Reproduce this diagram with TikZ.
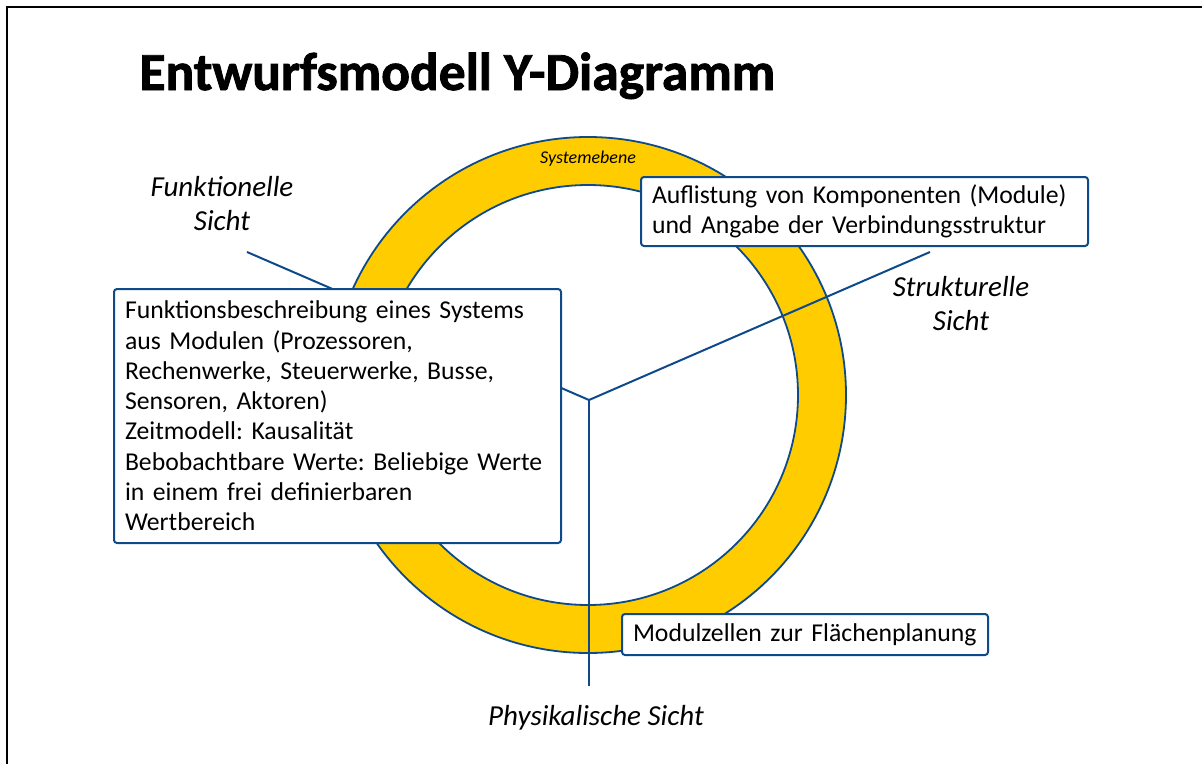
\documentclass[tikz,border=0pt]{standalone}
\usepackage{fontspec}
\setmainfont{Carlito}
\newfontfamily\titlefont[FakeBold=1.6]{Carlito Bold}
\definecolor{ringyellow}{RGB}{255,204,0}
\definecolor{dblue}{RGB}{14,74,138}
\frenchspacing
\tikzset{
  ylink/.style={draw=dblue, line width=2pt},
  infobox/.style={draw=dblue, line width=2pt, fill=white, rounded corners=3pt,
    align=left, inner xsep=11pt, inner ysep=0pt, anchor=north west,
    font=\fontsize{25.7}{30.3}\selectfont},
  viewlabel/.style={align=center, font=\fontsize{29}{34}\selectfont\itshape},
}
\begin{document}
\begin{tikzpicture}[x=1pt,y=-1pt]
\useasboundingbox (0,0) rectangle (1202,763);
\clip (0,0) rectangle (1202,763);
\fill[white] (0,0) rectangle (1202,763);
\draw[line width=2.5pt] (7,7) rectangle (1240,800);
\node[anchor=base west, font=\fontsize{53.5}{60}\selectfont\titlefont] (title) at (136,90) {Entwurfsmodell Y-Diagramm};
% ring
\fill[ringyellow, even odd rule] (588,395) circle[radius=258pt] (588,395) circle[radius=210pt];
\draw[dblue, line width=1.8pt] (588,395) circle[radius=258pt];
\draw[dblue, line width=1.8pt] (588,395) circle[radius=210pt];
\node[font=\fontsize{18}{21}\selectfont\itshape] (sys) at (588,159) {Systemebene};
% Y
\coordinate (c) at (589,400);
\coordinate (fl) at (247,252);
\coordinate (sr) at (930,252);
\coordinate (pb) at (589,686);
\draw[ylink] (c) -- (fl);
\draw[ylink] (c) -- (sr);
\draw[ylink] (c) -- (pb);
% labels
\node[viewlabel] (funk) at (222,204) {Funktionelle\\Sicht};
\node[viewlabel] (struk) at (961,304) {Strukturelle\\Sicht};
\node[viewlabel] (phys) at (596,718) {Physikalische Sicht};
% boxes
\node[infobox, text width=425pt, minimum height=254pt] (fbox) at (113,288)
 {Funktionsbeschreibung eines Systems\\aus Modulen (Prozessoren,\\Rechenwerke, Steuerwerke, Busse,\\Sensoren, Aktoren)\\Zeitmodell: Kausalität\\Bebobachtbare Werte: Beliebige Werte\\in einem frei definierbaren\\Wertbereich};
\node[infobox, text width=425pt, minimum height=69pt] (sbox) at (640,176)
 {Auflistung von Komponenten (Module)\\und Angabe der Verbindungsstruktur};
\node[infobox, text width=344pt, minimum height=41pt] (pbox) at (621,613)
 {Modulzellen zur Flächenplanung};
\end{tikzpicture}
\end{document}
